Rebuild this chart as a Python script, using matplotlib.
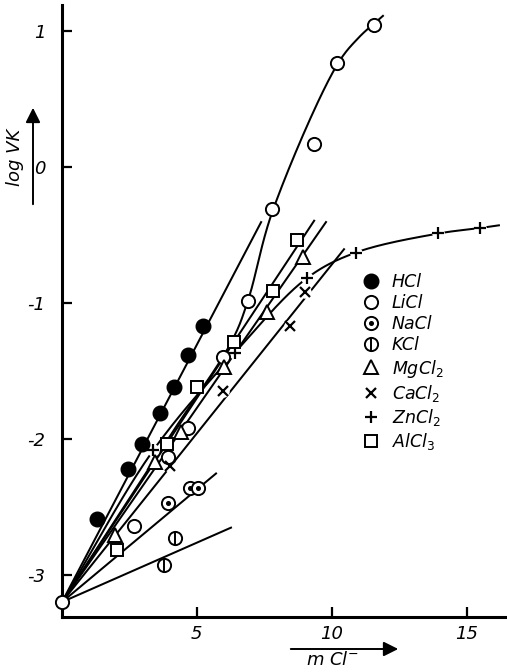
import numpy as np
import matplotlib
matplotlib.use("Agg")
import matplotlib.pyplot as plt
from matplotlib.patches import FancyArrowPatch

plt.rcParams["font.family"] = ["DejaVu Sans"]
plt.rcParams["axes.unicode_minus"] = False
plt.rcParams["mathtext.fontset"] = "dejavusans"

# ---- measured points -------------------------------------------------------
origin_x = [0.0]
origin_y = [-3.2]

hcl_x = [1.3, 2.44, 2.96, 3.63, 4.15, 4.67, 5.22]
hcl_y = [-2.59, -2.22, -2.04, -1.81, -1.62, -1.38, -1.17]

licl_x = [2.67, 3.93, 4.67, 5.96, 6.89, 7.8, 9.35, 10.2, 11.55]
licl_y = [-2.64, -2.13, -1.92, -1.40, -0.99, -0.31, 0.17, 0.76, 1.04]

nacl_x = [3.93, 4.74, 5.04]
nacl_y = [-2.47, -2.36, -2.36]

kcl_x = [3.78, 4.19]
kcl_y = [-2.93, -2.73]

mgcl2_x = [1.96, 3.44, 4.4, 6.0, 7.59, 8.93]
mgcl2_y = [-2.71, -2.17, -1.95, -1.47, -1.07, -0.66]

cacl2_x = [4.0, 5.96, 8.44, 9.0]
cacl2_y = [-2.2, -1.65, -1.17, -0.92]

zncl2_x = [3.37, 6.4, 9.07, 10.9, 13.96, 15.5]
zncl2_y = [-2.08, -1.37, -0.82, -0.63, -0.49, -0.45]

alcl3_x = [2.04, 3.89, 5.0, 6.37, 7.81, 8.7]
alcl3_y = [-2.82, -2.04, -1.62, -1.29, -0.91, -0.54]

# ---- fitted lines (straight, from the common origin) -----------------------
line_ends = {
    "HCl":   (7.4, -0.40),
    "NaCl":  (5.74, -2.25),
    "KCl":   (6.3, -2.65),
    "MgCl2": (9.81, -0.40),
    "AlCl3": (9.37, -0.39),
    "CaCl2": (10.48, -0.60),
}

# ---- fitted curves (smooth, through guide points) --------------------------
licl_curve_x = [0.0, 4.0, 6.3, 6.9, 7.8, 10.2, 11.0, 11.9]
licl_curve_y = [-3.2, -1.98, -1.28, -0.98, -0.33, 0.75, 0.95, 1.11]

zncl2_curve_x = [0.0, 3.4, 6.4, 9.07, 10.9, 13.96, 15.5, 16.2]
zncl2_curve_y = [-3.2, -2.08, -1.37, -0.82, -0.63, -0.49, -0.45, -0.43]

legend_labels = ["HCl", "LiCl", "NaCl", "KCl",
                 "MgCl$_2$", "CaCl$_2$", "ZnCl$_2$", "AlCl$_3$"]

x_ticks = [5, 10, 15]
y_ticks = [-3, -2, -1, 0, 1]


def catmull_rom(xs, ys, n=40, aspect=5.0):
    """Centripetal Catmull-Rom spline through the given guide points."""
    P = np.column_stack([np.asarray(xs, float), np.asarray(ys, float) * aspect])
    P = np.vstack([2 * P[0] - P[1], P, 2 * P[-1] - P[-2]])
    out = []
    for i in range(len(P) - 3):
        p0, p1, p2, p3 = P[i:i + 4]
        t0 = 0.0
        t1 = t0 + np.linalg.norm(p1 - p0) ** 0.5
        t2 = t1 + np.linalg.norm(p2 - p1) ** 0.5
        t3 = t2 + np.linalg.norm(p3 - p2) ** 0.5
        t = np.linspace(t1, t2, n)[:, None]
        A1 = (t1 - t) / (t1 - t0) * p0 + (t - t0) / (t1 - t0) * p1
        A2 = (t2 - t) / (t2 - t1) * p1 + (t - t1) / (t2 - t1) * p2
        A3 = (t3 - t) / (t3 - t2) * p2 + (t - t2) / (t3 - t2) * p3
        B1 = (t2 - t) / (t2 - t0) * A1 + (t - t0) / (t2 - t0) * A2
        B2 = (t3 - t) / (t3 - t1) * A2 + (t - t1) / (t3 - t1) * A3
        out.append((t2 - t) / (t2 - t1) * B1 + (t - t1) / (t2 - t1) * B2)
    pts = np.vstack(out)
    return pts[:, 0], pts[:, 1] / aspect


W, H = 507, 672
fig = plt.figure(figsize=(W / 100, H / 100), dpi=100)
ax = fig.add_axes([62 / W, 1 - 617 / H, (W - 62) / W, (617 - 5) / H])
ax.set_xlim(0, 16.5)
ax.set_ylim(-3.31, 1.19)

LW = 1.45
K = "black"

# fitted lines
for name, (xe, ye) in line_ends.items():
    ax.plot([origin_x[0], xe], [origin_y[0], ye], color=K, lw=LW, zorder=2,
            solid_capstyle="butt")

cx, cy = catmull_rom(licl_curve_x, licl_curve_y)
ax.plot(cx, cy, color=K, lw=LW, zorder=2)
zx, zy = catmull_rom(zncl2_curve_x, zncl2_curve_y)
ax.plot(zx, zy, color=K, lw=LW, zorder=2)

# white halos so the lines break around the thin markers
halo = dict(ls="none", marker="o", ms=9, mfc="white", mec="none", zorder=3,
            clip_on=False)
ax.plot(cacl2_x, cacl2_y, **halo)
ax.plot(zncl2_x, zncl2_y, **halo)

MEW = 1.4
opn = dict(ls="none", mfc="white", mec=K, mew=MEW, zorder=4, clip_on=False)

h_hcl = ax.plot(hcl_x, hcl_y, ls="none", marker="o", ms=10.5, mfc=K, mec=K,
                zorder=4)[0]
h_licl = ax.plot(licl_x, licl_y, marker="o", ms=9.5, **opn)[0]
ax.plot(origin_x, origin_y, marker="o", ms=9.5, **opn)
h_nacl_o = ax.plot(nacl_x, nacl_y, marker="o", ms=9.5, **opn)[0]
h_nacl_d = ax.plot(nacl_x, nacl_y, ls="none", marker="o", ms=2.6, mfc=K,
                   mec=K, zorder=5)[0]
h_kcl_o = ax.plot(kcl_x, kcl_y, marker="o", ms=9.5, **opn)[0]
h_kcl_l = ax.plot(kcl_x, kcl_y, ls="none", marker="|", ms=9.5, mec=K,
                  mew=MEW, zorder=5)[0]
h_mg = ax.plot(mgcl2_x, mgcl2_y, marker="^", ms=10, **opn)[0]
h_ca = ax.plot(cacl2_x, cacl2_y, ls="none", marker="x", ms=6.5, mec=K,
               mew=1.6, zorder=5)[0]
h_zn = ax.plot(zncl2_x, zncl2_y, ls="none", marker="+", ms=8.5, mec=K,
               mew=1.6, zorder=5)[0]
h_al = ax.plot(alcl3_x, alcl3_y, marker="s", ms=8.6, **opn)[0]

handles = [h_hcl, h_licl, (h_nacl_o, h_nacl_d), (h_kcl_o, h_kcl_l),
           h_mg, h_ca, h_zn, h_al]
leg = ax.legend(handles, legend_labels, loc="upper left",
                bbox_to_anchor=(362 / W, 1 - 273 / H),
                bbox_transform=fig.transFigure, frameon=False,
                prop={"style": "italic", "size": 12.5},
                handlelength=1.0, handletextpad=0.7, labelspacing=0.18,
                borderpad=0, borderaxespad=0)

# axes styling
for s in ("top", "right"):
    ax.spines[s].set_visible(False)
for s in ("left", "bottom"):
    ax.spines[s].set_linewidth(2.2)
ax.set_xticks(x_ticks)
ax.set_xticklabels([str(v) for v in x_ticks], style="italic", fontsize=13)
ax.set_yticks(y_ticks)
ax.set_yticklabels([str(v) for v in y_ticks], style="italic", fontsize=13)
ax.tick_params(axis="both", direction="in", length=7, width=1.6)
ax.tick_params(axis="y", pad=12)
ax.tick_params(axis="x", pad=6)

# axis titles with arrows
fig.text(15 / W, 1 - 157 / H, "log VK", rotation=90, style="italic",
         fontsize=13, ha="center", va="center")
fig.patches.append(FancyArrowPatch((33 / W, 1 - 207 / H), (33 / W, 1 - 105 / H),
                                   transform=fig.transFigure,
                                   arrowstyle="-|>", mutation_scale=22,
                                   lw=1.4, color=K))
fig.text(332 / W, 1 - 660 / H, "m Cl$^{-}$", style="italic", fontsize=13,
         ha="center", va="center")
fig.patches.append(FancyArrowPatch((288 / W, 1 - 649 / H), (401 / W, 1 - 649 / H),
                                   transform=fig.transFigure,
                                   arrowstyle="-|>", mutation_scale=22,
                                   lw=1.4, color=K))

fig.savefig("out.png", dpi=100)
